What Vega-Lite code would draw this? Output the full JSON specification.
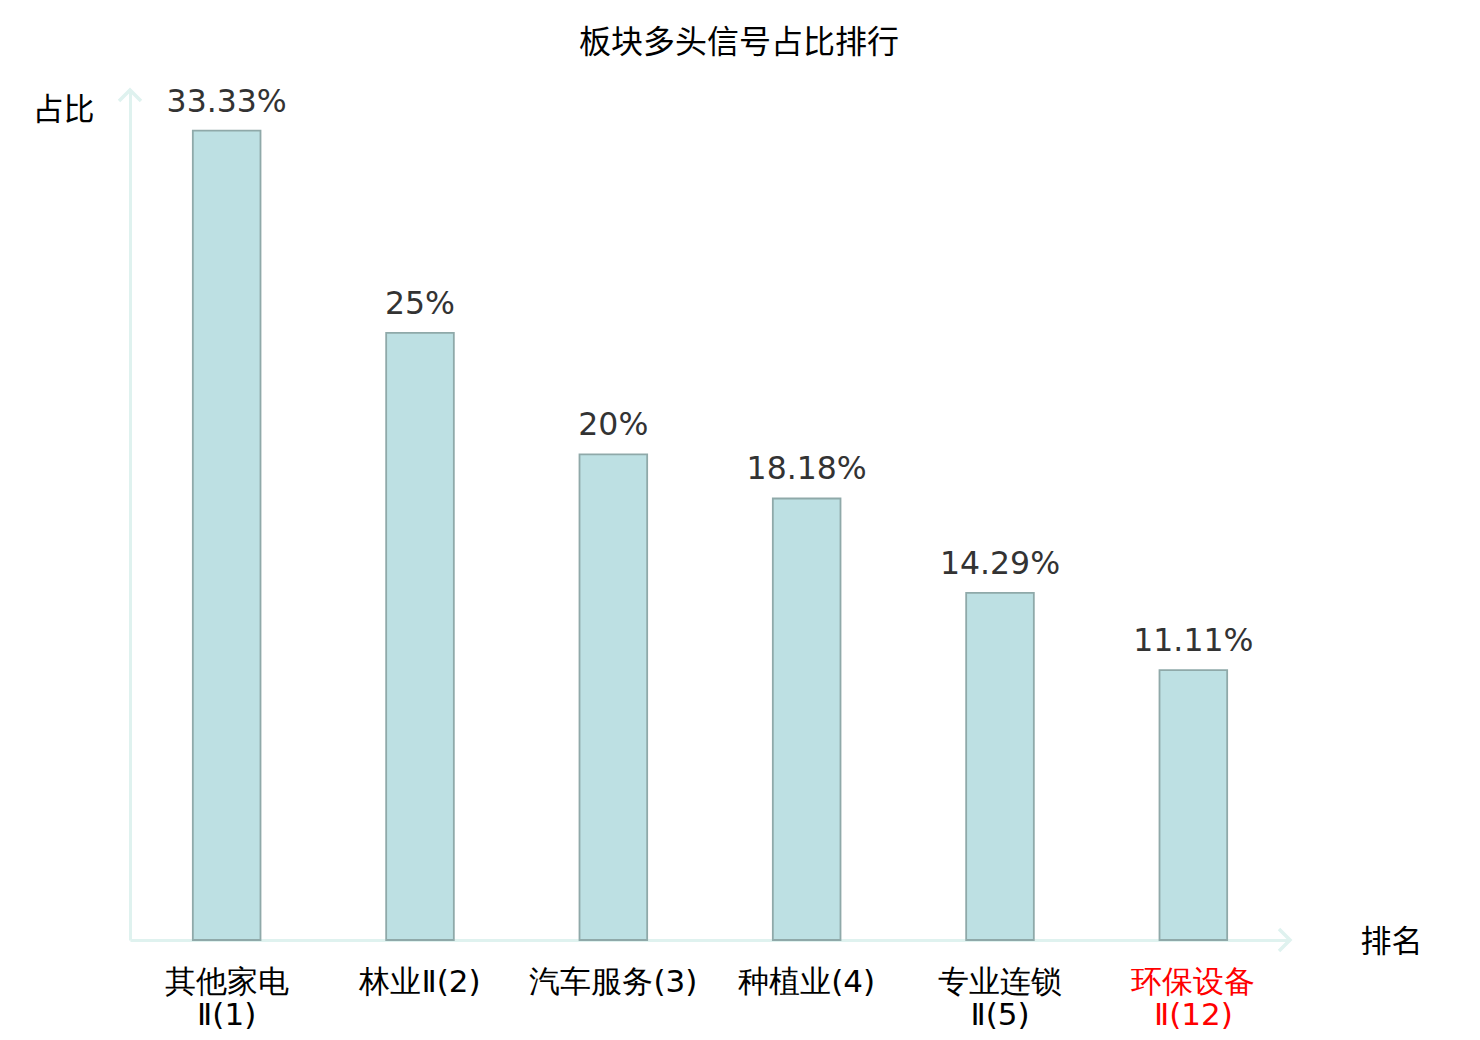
{
  "$schema": "https://vega.github.io/schema/vega-lite/v6.json",
  "autosize": "none",
  "width": 1160,
  "height": 850,
  "padding": {"left": 130, "top": 90, "right": 190, "bottom": 100},
  "background": "white",
  "config": {
    "view": {"stroke": null},
    "font": "Noto Sans CJK SC"
  },
  "title": {
    "text": "板块多头信号占比排行",
    "font": "Noto Sans CJK SC",
    "fontSize": 32,
    "fontWeight": "normal",
    "color": "#000000",
    "anchor": "middle",
    "dx": 29,
    "offset": 23
  },
  "layer": [
    {
      "data": {
        "values": [
          {"sector": "其他家电\nⅡ(1)", "share": 33.33},
          {"sector": "林业Ⅱ(2)", "share": 25},
          {"sector": "汽车服务(3)", "share": 20},
          {"sector": "种植业(4)", "share": 18.18},
          {"sector": "专业连锁\nⅡ(5)", "share": 14.29},
          {"sector": "环保设备\nⅡ(12)", "share": 11.11}
        ]
      },
      "transform": [{"calculate": "datum.share + '%'", "as": "label"}],
      "encoding": {
        "x": {
          "field": "sector",
          "type": "nominal",
          "sort": null,
          "scale": {"paddingInner": 0.65, "paddingOuter": 0.325},
          "axis": {
            "title": "排名",
            "titleFont": "Noto Sans CJK SC",
            "titleFontSize": 31,
            "titleFontWeight": "normal",
            "titleColor": "#000000",
            "titleAngle": 0,
            "titleAlign": "center",
            "titleBaseline": "middle",
            "titleX": 1261,
            "titleY": 2,
            "labelAngle": 0,
            "labelFont": "DejaVu Sans",
            "labelFontSize": 31,
            "labelLineHeight": 33,
            "labelPadding": 27,
            "labelExpr": "split(datum.value, '\\n')",
            "labelColor": {
              "condition": {"test": "indexof(datum.value, '环保设备') >= 0", "value": "#ff0000"},
              "value": "#000000"
            },
            "ticks": false,
            "domainColor": "#dff2ef",
            "domainWidth": 3,
            "grid": false
          }
        },
        "y": {
          "field": "share",
          "type": "quantitative",
          "scale": {"domain": [0, 35], "nice": false},
          "axis": {
            "title": "占比",
            "titleFont": "Noto Sans CJK SC",
            "titleFontSize": 31,
            "titleFontWeight": "normal",
            "titleColor": "#000000",
            "titleAngle": 0,
            "titleAlign": "center",
            "titleBaseline": "middle",
            "titleX": -67,
            "titleY": 20,
            "labels": false,
            "ticks": false,
            "grid": false,
            "domainColor": "#dff2ef",
            "domainWidth": 3
          }
        }
      },
      "layer": [
        {
          "mark": {"type": "bar", "color": "#bde0e3", "stroke": "#8fa9a9", "strokeWidth": 1.8}
        },
        {
          "mark": {
            "type": "text",
            "font": "DejaVu Sans",
            "fontSize": 31.5,
            "color": "#333333",
            "baseline": "alphabetic",
            "dy": -19
          },
          "encoding": {"text": {"field": "label"}}
        }
      ]
    },
    {
      "data": {
        "values": [
          {"pos": 0, "level": 35, "turn": 0},
          {"pos": 1, "level": 0, "turn": 90}
        ]
      },
      "mark": {
        "type": "point",
        "shape": "M -1 1 L 0 0 L 1 1",
        "filled": false,
        "stroke": "#dff2ef",
        "strokeWidth": 3.5,
        "size": 484,
        "opacity": 1
      },
      "encoding": {
        "x": {
          "field": "pos",
          "type": "quantitative",
          "scale": {"domain": [0, 1], "nice": false, "zero": false},
          "axis": null
        },
        "y": {"field": "level", "type": "quantitative"},
        "angle": {"field": "turn", "type": "quantitative", "scale": null}
      }
    }
  ],
  "resolve": {"scale": {"x": "independent"}, "axis": {"x": "independent"}}
}
